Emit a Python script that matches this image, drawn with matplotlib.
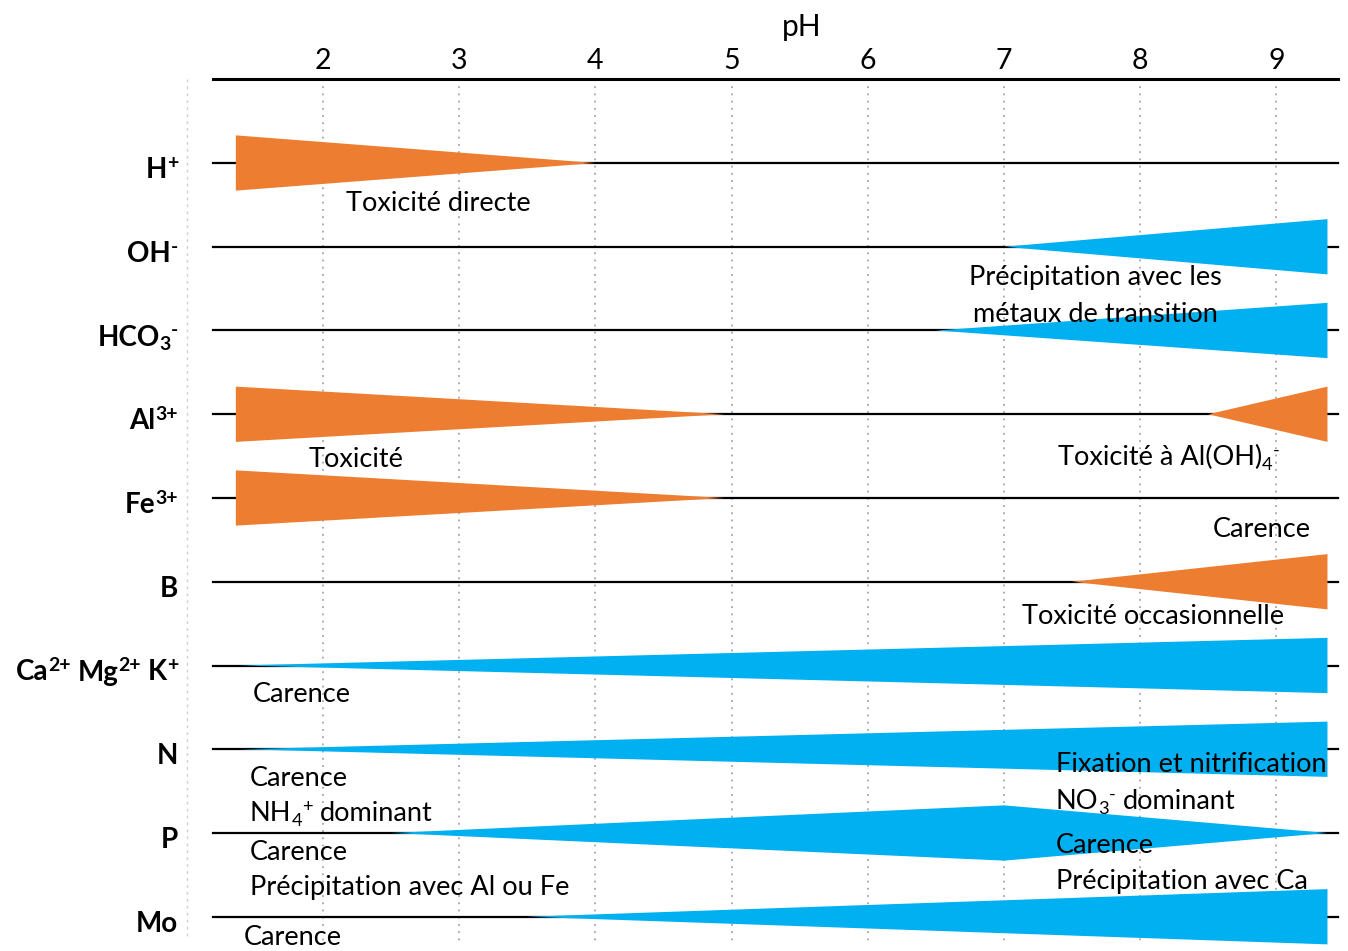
import re
import matplotlib
matplotlib.use("Agg")
import matplotlib.pyplot as plt
from matplotlib.patches import Polygon
from matplotlib.transforms import IdentityTransform

# ---------------- data ----------------
ph_ticks = [2, 3, 4, 5, 6, 7, 8, 9]
ions = ["H^{+}", "OH^{-}", "HCO_{3}^{-}", "Al^{3+}", "Fe^{3+}", "B",
        "Ca^{2+} Mg^{2+} K^{+}", "N", "P", "Mo"]
ORANGE = "#ED7D31"
BLUE = "#00B0F0"
# each zone: (row index, pH points, relative width at those points, colour)
zone_rows = [0, 1, 2, 3, 3, 4, 5, 6, 7, 8, 9]
zone_ph = [[1.36, 4.0], [7.0, 9.375], [6.5, 9.375], [1.36, 4.95], [8.5, 9.375],
           [1.36, 4.95], [7.5, 9.375], [1.39, 9.375], [1.39, 9.375],
           [2.5, 7.0, 9.375], [3.5, 9.375]]
zone_width = [[1, 0], [0, 1], [0, 1], [1, 0], [0, 1], [1, 0], [0, 1], [0, 1], [0, 1],
              [0, 1, 0], [0, 1]]
zone_color = [ORANGE, BLUE, BLUE, ORANGE, ORANGE, ORANGE, ORANGE, BLUE, BLUE, BLUE, BLUE]

note_texts = ["Toxicité directe", "Précipitation avec les", "métaux de transition",
              "Toxicité", "Toxicité à Al(OH)_{4}^{-}", "Carence", "Toxicité occasionnelle",
              "Carence", "Carence", "NH_{4}^{+} dominant", "Fixation et nitrification",
              "NO_{3}^{-} dominant", "Carence", "Précipitation avec Al ou Fe", "Carence",
              "Précipitation avec Ca", "Carence"]

# ---------------- layout (pixels, top-left origin) ----------------
W, H = 1348, 951
PX_PER_PH = 136.2
PX_PH2 = 323.0
ROW0 = 163.0
ROW_STEP = 83.75
HALF = 0.33  # half height of a full wedge, in row units

note_pos = [(346, 211, "left"), (1095, 285, "center"), (1095, 322, "center"),
            (309, 467, "left"), (1058, 465, "left"), (1213, 537, "left"),
            (1022, 624, "left"), (253, 702, "left"), (250, 786, "left"),
            (250, 821, "left"), (1056, 772, "left"), (1056, 809, "left"),
            (250, 860, "left"), (250, 895, "left"), (1056, 853, "left"),
            (1056, 889, "left"), (244, 945, "left")]


def xph(px):
    return 2 + (px - PX_PH2) / PX_PER_PH


def yrow(py):
    return (py - ROW0) / ROW_STEP


plt.rcParams['font.family'] = ['Lato', 'DejaVu Sans']

fig = plt.figure(figsize=(W / 100, H / 100), dpi=100)
ax = fig.add_axes([0, 0, 1, 1])
ax.set_xlim(xph(0), xph(W))
ax.set_ylim(yrow(H), yrow(0))
ax.axis("off")
renderer = fig.canvas.get_renderer()


def parse(s):
    segs = []
    for part in re.split(r"(\^\{[^}]*\}|_\{[^}]*\})", s):
        if not part:
            continue
        if part.startswith("^{"):
            segs.append((part[2:-1], 1))
        elif part.startswith("_{"):
            segs.append((part[2:-1], -1))
        else:
            lead = len(part) - len(part.lstrip(" "))
            trail = len(part) - len(part.rstrip(" "))
            core = part.strip(" ")
            if lead:
                segs.append((" " * lead, 0))
            if core:
                segs.append((core, 0))
            if trail:
                segs.append((" " * trail, 0))
    return segs


def rich(x, y, s, size, weight="normal", ha="left", z=6, scale=0.68):
    em = size * 100 / 72
    segs = parse(s)
    items = []
    for txt, k in segs:
        if txt.strip() == "":
            items.append((None, 0.25 * em * len(txt), 0))
            continue
        fs = size * (scale if k else 1.0)
        dy = 0.33 * em if k == 1 else (-0.17 * em if k == -1 else 0)
        t = fig.text(0, 0, txt, fontsize=fs, fontweight=weight, va="baseline",
                     ha="left", transform=IdentityTransform(), zorder=z)
        w = t.get_window_extent(renderer).width
        items.append((t, w, dy))
    total = sum(w for _, w, _ in items)
    if ha == "right":
        x0 = x - total
    elif ha == "center":
        x0 = x - total / 2
    else:
        x0 = x
    cx = x0
    for t, w, dy in items:
        if t is not None:
            t.set_position((cx, H - y + dy))
        cx += w


x_left, x_right = xph(213), xph(1338)
y_top = yrow(79)
y_bot = yrow(945)

# grid lines
for t in ph_ticks:
    ax.plot([t, t], [y_top, y_bot], color="#a6a6a6", lw=1.3, ls=(0, (1, 3)), zorder=1)
ax.plot([xph(187), xph(187)], [y_top, yrow(940)], color="#d0d0d0", lw=1.0,
        ls=(0, (2, 3)), zorder=1)

# top axis
ax.plot([x_left, x_right], [y_top, y_top], color="black", lw=2.2, zorder=3)
for t in ph_ticks:
    ax.text(t, yrow(69), str(t), ha="center", va="baseline", fontsize=20.5)
ax.text(xph(802), yrow(36), "pH", ha="center", va="baseline", fontsize=21.5)

# row lines and labels
for i, lab in enumerate(ions):
    ax.plot([x_left, x_right], [i, i], color="black", lw=1.6, zorder=2)
    rich(178, ROW0 + i * ROW_STEP + 15, lab, 20, weight="bold", ha="right", scale=0.7)

# wedges
for r, phs, ws, c in zip(zone_rows, zone_ph, zone_width, zone_color):
    upper = [(p, r - HALF * w) for p, w in zip(phs, ws)]
    lower = [(p, r + HALF * w) for p, w in zip(phs, ws)][::-1]
    ax.add_patch(Polygon(upper + lower, closed=True, facecolor=c, edgecolor="none",
                         zorder=4))

# annotations
for txt, (x, y, ha) in zip(note_texts, note_pos):
    rich(x, y, txt, 19.5, ha=ha)

fig.savefig("out.png", dpi=100)
